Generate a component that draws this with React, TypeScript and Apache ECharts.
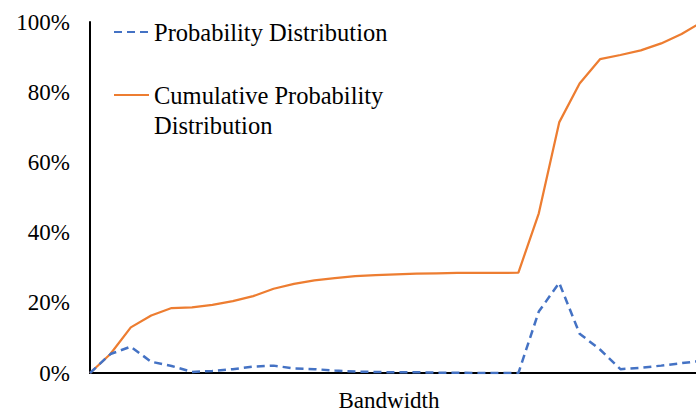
import React, { useEffect, useRef } from "react";
import * as echarts from "echarts";

// Bandwidth levels (unlabelled on the axis)
const bandwidthLevels: string[] = Array.from({ length: 31 }, (_, i) => String(i + 1));

const probability: number[] = [
  0, 5.4, 7.5, 3.2, 2.0, 0.3, 0.6, 1.1, 1.8, 2.1, 1.3, 1.1, 0.7, 0.4, 0.3, 0.2,
  0.2, 0.1, 0.1, 0, 0, 0, 17.5, 25.7, 11.2, 6.7, 1.1, 1.5, 2.1, 2.8, 3.5,
];

const cumulative: number[] = [
  0, 5.4, 13.0, 16.4, 18.5, 18.7, 19.4, 20.5, 21.9, 24.0, 25.4, 26.4, 27.0, 27.6,
  27.9, 28.1, 28.3, 28.4, 28.5, 28.5, 28.5, 28.6, 45.5, 71.4, 82.5, 89.4, 90.6,
  91.9, 93.9, 96.6, 100,
];

const yTicks = { min: 0, max: 100, interval: 20 };

const seriesNames = ["Probability Distribution", "Cumulative Probability Distribution"];

const FONT = "Liberation Serif";

export default function App() {
  const ref = useRef<HTMLDivElement>(null);
  useEffect(() => {
    if (!ref.current) return;
    const chart = echarts.init(ref.current, null, { renderer: "svg" });
    chart.setOption({
      animation: false,
      backgroundColor: "#ffffff",
      grid: {
        left: 90,
        right: -6,
        top: 22,
        bottom: 41,
        containLabel: false,
        outerBoundsMode: "none",
      },
      legend: {
        orient: "vertical",
        left: 113,
        top: 17,
        padding: 0,
        itemWidth: 35,
        itemHeight: 14,
        itemGap: 3,
        itemStyle: { color: "transparent", borderColor: "transparent", borderWidth: 0 },
        data: seriesNames,
        formatter: (name: string) =>
          name === seriesNames[1] ? "\nCumulative Probability\nDistribution" : name,
        textStyle: {
          fontFamily: FONT,
          fontSize: 24.5,
          color: "#000",
          lineHeight: 30,
        },
      },
      xAxis: {
        type: "category",
        boundaryGap: false,
        data: bandwidthLevels,
        name: "Bandwidth",
        nameLocation: "middle",
        nameGap: 16,
        nameTextStyle: {
          fontFamily: FONT,
          fontSize: 23,
          color: "#000",
          padding: [0, 14, 0, 0],
        },
        axisLine: { lineStyle: { color: "#000", width: 2 } },
        axisTick: { show: false },
        axisLabel: { show: false },
        splitLine: { show: false },
      },
      yAxis: {
        type: "value",
        min: yTicks.min,
        max: yTicks.max,
        interval: yTicks.interval,
        axisLine: { show: true, lineStyle: { color: "#000", width: 2 } },
        axisTick: { show: false },
        splitLine: { show: false },
        axisLabel: {
          formatter: "{value}%",
          fontFamily: FONT,
          fontSize: 23,
          color: "#000",
          margin: 20,
        },
      },
      series: [
        {
          name: seriesNames[0],
          type: "line",
          data: probability,
          symbol: "none",
          z: 3,
          lineStyle: { color: "#4472C4", width: 2.5, type: [8, 5] },
          itemStyle: { color: "#4472C4" },
        },
        {
          name: seriesNames[1],
          type: "line",
          data: cumulative,
          symbol: "none",
          z: 2,
          lineStyle: { color: "#ED7D31", width: 2.25 },
          itemStyle: { color: "#ED7D31" },
        },
      ],
    });
    return () => chart.dispose();
  }, []);
  return (
    <div
      ref={ref}
      style={{ position: "fixed", left: 0, top: 0, width: 696, height: 414, background: "#fff" }}
    />
  );
}
